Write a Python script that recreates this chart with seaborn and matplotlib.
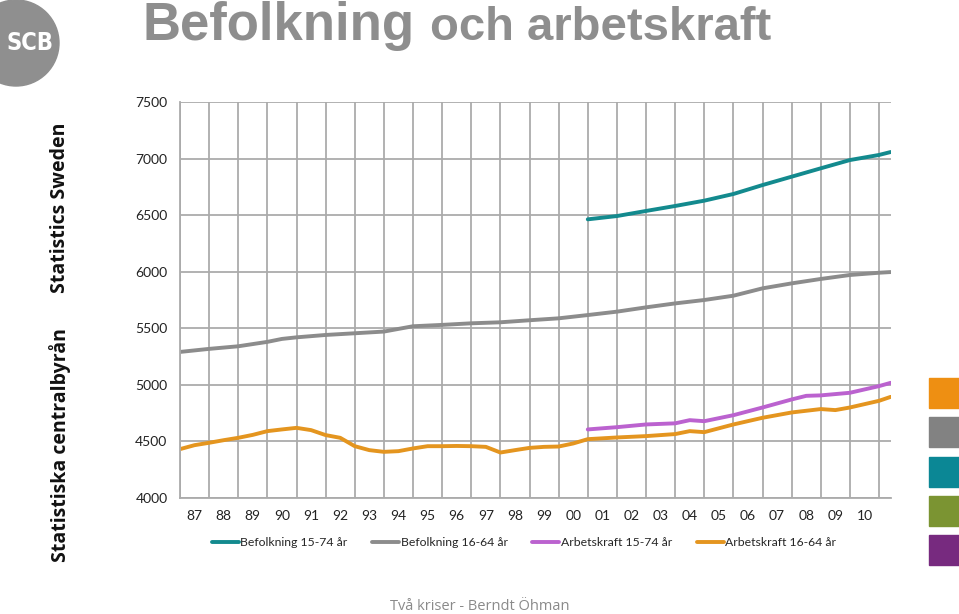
import pandas as pd
import matplotlib
matplotlib.use('Agg')
import matplotlib.pyplot as plt
from matplotlib.patches import Circle, Rectangle
import seaborn as sns

# values (thousands), x in fractional years
years_1664 = [1987, 1988, 1989, 1990, 1990.5, 1991, 1992, 1993, 1994, 1995, 1996, 1997,
              1998, 1999, 2000, 2001, 2002, 2003, 2004, 2005, 2006, 2007, 2008, 2009,
              2010, 2011, 2011.4]
befolkning_1664 = [5291, 5318, 5341, 5380, 5406, 5420, 5441, 5456, 5471, 5518, 5530, 5544,
                   5553, 5571, 5588, 5617, 5647, 5685, 5720, 5750, 5788, 5853, 5897, 5936,
                   5971, 5991, 5997]

years_1574 = [2001, 2002, 2003, 2004, 2005, 2006, 2007, 2008, 2009, 2010, 2011, 2011.4]
befolkning_1574 = [6463, 6492, 6537, 6581, 6628, 6687, 6766, 6840, 6914, 6987, 7032, 7058]

years_ak1574 = [2001, 2002, 2003, 2004, 2004.5, 2005, 2006, 2007, 2008, 2008.5, 2009,
                2010, 2011, 2011.4]
arbetskraft_1574 = [4606, 4626, 4650, 4660, 4688, 4679, 4732, 4800, 4871, 4903, 4907,
                    4930, 4989, 5018]

years_ak1664 = [1987, 1987.5, 1988, 1988.5, 1989, 1989.5, 1990, 1990.5, 1991, 1991.5,
                1992, 1992.5, 1993, 1993.5, 1994, 1994.5, 1995, 1995.5, 1996, 1996.5,
                1997, 1997.5, 1998, 1998.5, 1999, 1999.5, 2000, 2000.5, 2001, 2002,
                2003, 2004, 2004.5, 2005, 2006, 2007, 2008, 2009, 2009.5, 2010, 2011,
                2011.4]
arbetskraft_1664 = [4432, 4467, 4488, 4511, 4532, 4558, 4591, 4606, 4620, 4600,
                    4556, 4532, 4458, 4423, 4408, 4414, 4438, 4458, 4458, 4460,
                    4458, 4452, 4402, 4423, 4443, 4452, 4455, 4482, 4520, 4535,
                    4547, 4565, 4591, 4582, 4650, 4709, 4756, 4786, 4777, 4800, 4859,
                    4894]

series_names = ['Befolkning 15-74 år', 'Befolkning 16-64 år',
                'Arbetskraft 15-74 år', 'Arbetskraft 16-64 år']
series_colors = ['#138a8e', '#8c8c8c', '#bb62cf', '#e4951f']
year_labels = ['87', '88', '89', '90', '91', '92', '93', '94', '95', '96', '97', '98',
               '99', '00', '01', '02', '03', '04', '05', '06', '07', '08', '09', '10']

frames = []
for name, xs, ys in zip(series_names,
                        [years_1574, years_1664, years_ak1574, years_ak1664],
                        [befolkning_1574, befolkning_1664, arbetskraft_1574, arbetskraft_1664]):
    frames.append(pd.DataFrame({'year': xs, 'value': ys, 'serie': name}))
df = pd.concat(frames, ignore_index=True)

sns.set_style('white')
plt.rcParams['font.family'] = ['Lato', 'DejaVu Sans']

fig = plt.figure(figsize=(9.59, 6.14), dpi=100)
ax = fig.add_axes([180 / 959, 116 / 614, 711 / 959, 396 / 614])

sns.lineplot(data=df, x='year', y='value', hue='serie', hue_order=series_names,
             palette=series_colors, linewidth=2.8, ax=ax, legend=False,
             estimator=None, sort=True)

grid_col = '#ababab'
ax.set_xlim(1987, 2011.41)
ax.set_ylim(4000, 7500)
ax.set_yticks(range(4000, 7501, 500))
ax.set_xticks(range(1987, 2012), minor=False)
ax.set_xticklabels([])
ax.set_xticks([y + 0.5 for y in range(1987, 2011)], minor=True)
ax.set_xticklabels(year_labels, minor=True)
ax.tick_params(axis='x', which='minor', length=0, pad=9, labelsize=10, colors='#222222')
ax.tick_params(axis='x', which='major', length=4, color=grid_col, direction='out')
ax.tick_params(axis='y', length=4, color=grid_col, labelsize=10, colors='#222222', pad=5)
ax.grid(True, which='major', color=grid_col, linewidth=1.3)
ax.set_axisbelow(True)
for s in ['top', 'right']:
    ax.spines[s].set_visible(False)
for s in ['left', 'bottom']:
    ax.spines[s].set_color(grid_col)
    ax.spines[s].set_linewidth(1.3)
ax.set_xlabel('')
ax.set_ylabel('')

# legend
handles = [plt.Line2D([], [], color=c, linewidth=2.8) for c in series_colors]
fig.legend(handles, series_names, loc='center', bbox_to_anchor=(524 / 959, 1 - 543 / 614),
           ncol=4, frameon=False, fontsize=8.8, handlelength=2.2, handletextpad=0.15,
           columnspacing=2.0)

# title
fig.text(143 / 959, 1 - 40 / 614, 'Befolkning', fontsize=38, fontweight='bold',
         color='#8e8e8e', family='Liberation Sans', va='baseline')
fig.text(430 / 959, 1 - 40 / 614, 'och arbetskraft', fontsize=34, fontweight='bold',
         color='#8e8e8e', family='Liberation Sans', va='baseline')

# left brand strip
fig.text(60 / 959, 1 - 445 / 614, 'Statistiska centralbyrån', rotation=90, fontsize=14,
         fontweight='bold', color='#111111', family='Open Sans', ha='center', va='center')
fig.text(60 / 959, 1 - 208 / 614, 'Statistics Sweden', rotation=90, fontsize=14,
         fontweight='bold', color='#111111', family='Open Sans', ha='center', va='center')

# logo
logo = Circle((16, 614 - 43), 43, transform=None, color='#8f8f8f', zorder=5)
fig.patches.append(logo)
fig.text(30 / 959, 1 - 43 / 614, 'SCB', fontsize=17, color='white', ha='center',
         va='center', family='DejaVu Sans', fontweight='bold', fontstretch='condensed',
         zorder=6)

# colour squares on the right
square_cols = ['#ee8f12', '#828282', '#0b8795', '#7b9432', '#772a7f']
for i, c in enumerate(square_cols):
    top = 378 + i * 39.3
    fig.patches.append(Rectangle((929 / 959, 1 - (top + 30) / 614), 30 / 959, 30 / 614,
                                 transform=fig.transFigure, color=c))

# footer
fig.text(480 / 959, 1 - 606 / 614, 'Två kriser - Berndt Öhman', fontsize=10.5,
         color='#8a8a8a', ha='center', va='center', family='Open Sans')

fig.savefig('out.png', dpi=100)
plt.close(fig)
